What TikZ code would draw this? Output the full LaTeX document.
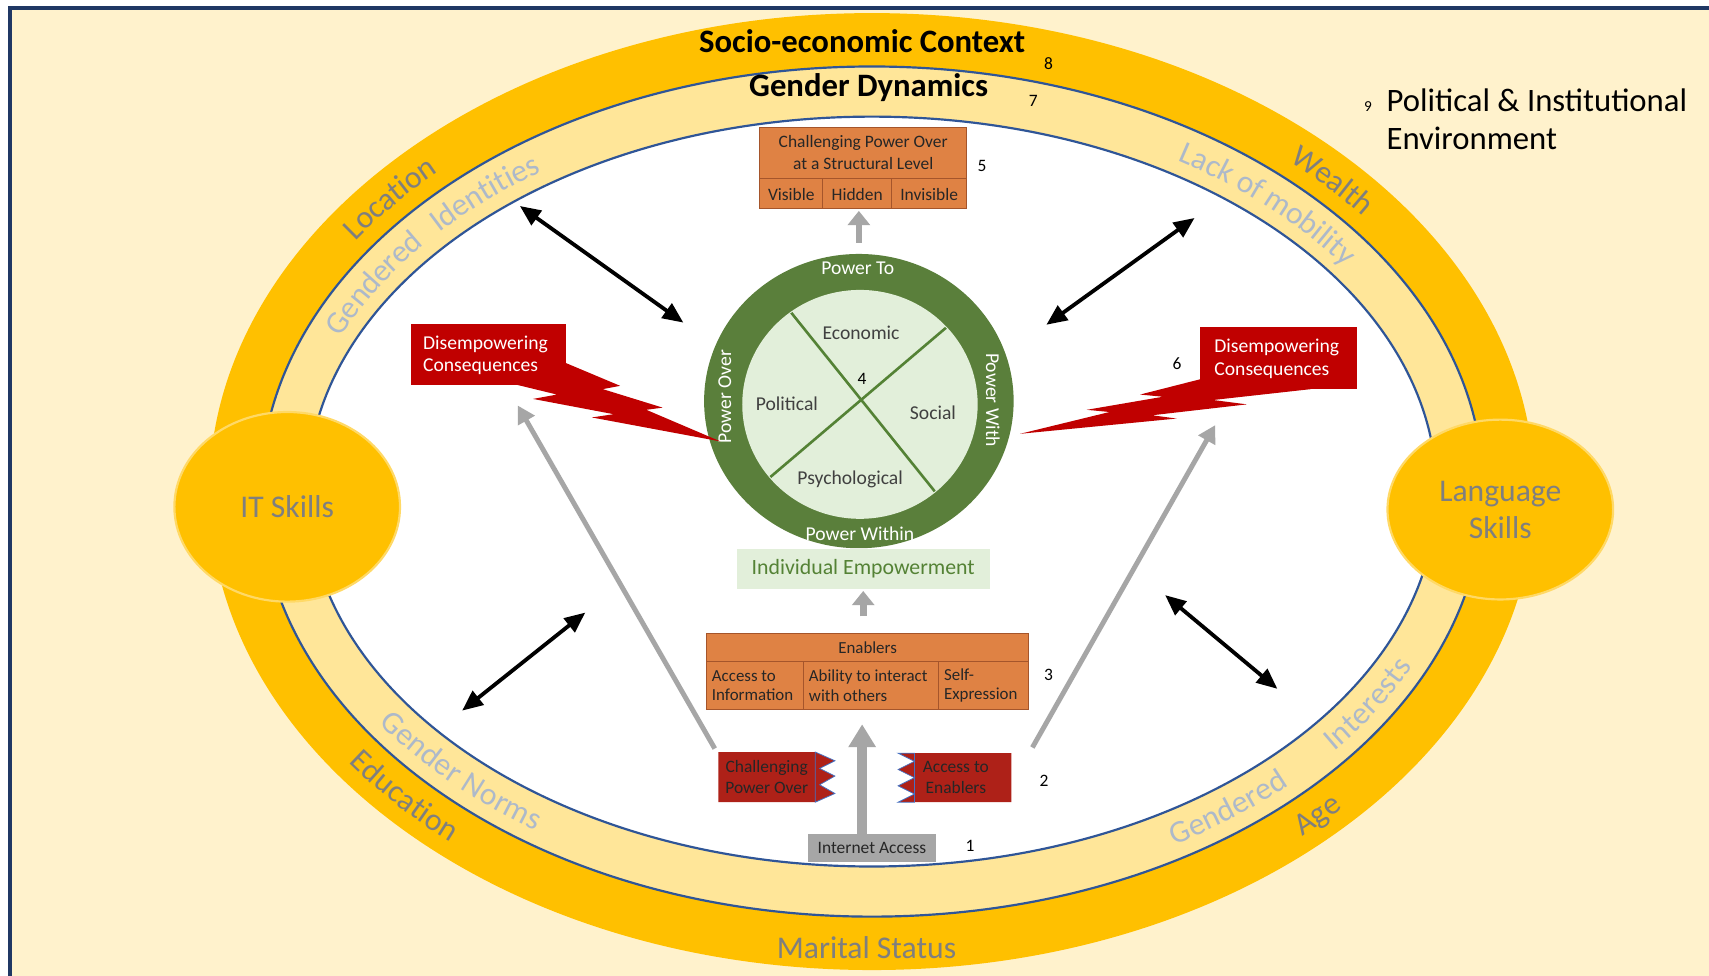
\documentclass[tikz,border=0pt]{standalone}
\usepackage{fontspec}
\setmainfont{Carlito}
\usetikzlibrary{arrows.meta,decorations.text,shapes.geometric}

\definecolor{cream}{HTML}{FFF2CC}
\definecolor{framenavy}{HTML}{203864}
\definecolor{gold}{HTML}{FFC000}
\definecolor{paleband}{HTML}{FFE699}
\definecolor{bandline}{HTML}{2F5597}
\definecolor{outerlabel}{HTML}{7F7F7F}
\definecolor{innerlabel}{HTML}{ADB9CA}
\definecolor{skillrim}{HTML}{FFD966}
\definecolor{boxorange}{HTML}{DF8244}
\definecolor{boxedge}{HTML}{A5552B}
\definecolor{alarm}{HTML}{C00000}
\definecolor{flagred}{HTML}{AE2118}
\definecolor{ringgreen}{HTML}{5A7F3B}
\definecolor{coregreen}{HTML}{E2EFDA}
\definecolor{spokegreen}{HTML}{548235}
\definecolor{arrowgrey}{HTML}{A6A6A6}
\definecolor{textgrey}{HTML}{404040}
\definecolor{toothblue}{HTML}{4472C4}

\newcommand\setfs[2]{\fontsize{#1}{#2}\selectfont}

\tikzset{
  outerlab/.style={decorate, decoration={text along path, text align=center, raise=-9pt,
      text={|\setfs{29}{29}\color{outerlabel}|#1}}},
  innerlab/.style={decorate, decoration={text along path, text align=center, raise=-9pt,
      text={|\setfs{29}{29}\color{innerlabel}|#1}}},
  num/.style={font=\setfs{16}{16}, text=black, inner sep=0pt},
  celltext/.style={font=\setfs{15.5}{18}, text=black!85, inner sep=0pt, align=center},
  coretext/.style={font=\setfs{18}{18}, text=textgrey, inner sep=0pt},
  ringtext/.style={font=\setfs{18}{18}, text=white, inner sep=0pt},
  flagtext/.style={font=\setfs{16}{19}, text=black!85, inner sep=0pt, align=center},
  alarmtext/.style={font=\setfs{18}{21}, text=white, inner sep=0pt, align=left, anchor=west},
  tablebox/.style={draw=boxedge, fill=boxorange, line width=1pt, inner sep=0pt},
  skill/.style={ellipse, fill=gold, draw=skillrim, line width=2pt, inner sep=0pt,
      font=\setfs{29}{34}, text=outerlabel, align=center},
  linkarrow/.style={line width=3.5pt, black,
      {Triangle[length=19pt,width=16pt]}-{Triangle[length=19pt,width=16pt]}},
  greyarrow/.style={line width=4.5pt, arrowgrey, -{Triangle[length=16pt,width=17pt]}},
  blockarrow/.style={arrowgrey, -{Triangle[length=13pt,width=20pt]}},
  bandedge/.style={bandline, line width=2pt},
}

\begin{document}
\begin{tikzpicture}[x=1pt, y=-1pt]
\useasboundingbox (0,0) rectangle (1568,895);

% page and outer frame
\begin{scope}
  \clip (0,0) rectangle (1568,895);
  \fill[white] (0,0) rectangle (1568,895);
  \draw[framenavy, line width=3.5pt, fill=cream] (9,7) rectangle (1650,960);
\end{scope}

% concentric context bands
\fill[gold] (800,451) ellipse [x radius=608, y radius=439];
\fill[paleband] (800,451) ellipse [x radius=561, y radius=390];
\fill[white] (800,451) ellipse [x radius=518, y radius=344];
\draw[bandedge] (800,451) ellipse [x radius=561, y radius=390];
\draw[bandedge] (800,451) ellipse [x radius=518, y radius=344];

% labels in the socio-economic band
\path[outerlab=Location, shift={(800,451)}] (-155:584.5 and 414.5)
  arc[start angle=-155, end angle=-125, x radius=584.5, y radius=414.5];
\path[outerlab=Wealth, shift={(800,451)}] (-58:584.5 and 414.5)
  arc[start angle=-58, end angle=-28, x radius=584.5, y radius=414.5];
\path[outerlab=Education, shift={(800,451)}] (-207:584.5 and 414.5)
  arc[start angle=-207, end angle=-237, x radius=584.5, y radius=414.5];
\path[outerlab=Age, shift={(800,451)}] (60:584.5 and 414.5)
  arc[start angle=60, end angle=30, x radius=584.5, y radius=414.5];
\node[font=\setfs{29}{29}, text=outerlabel] (marital) at (795,869) {Marital Status};

% labels in the gender band
\path[innerlab=Gendered, shift={(800,451)}] (-164:539.5 and 367)
  arc[start angle=-164, end angle=-134, x radius=539.5, y radius=367];
\path[innerlab=Identities, shift={(800,451)}] (-147:539.5 and 367)
  arc[start angle=-147, end angle=-117, x radius=539.5, y radius=367];
\path[innerlab=Lack of mobility, shift={(800,451)}] (-66:539.5 and 367)
  arc[start angle=-66, end angle=-26, x radius=539.5, y radius=367];
\path[innerlab=Gender Norms, shift={(800,451)}] (-204:539.5 and 367)
  arc[start angle=-204, end angle=-244, x radius=539.5, y radius=367];
\path[innerlab=Gendered, shift={(800,451)}] (67:539.5 and 367)
  arc[start angle=67, end angle=37, x radius=539.5, y radius=367];
\path[innerlab=Interests, shift={(800,451)}] (46.5:539.5 and 367)
  arc[start angle=46.5, end angle=16.5, x radius=539.5, y radius=367];

% band titles and numbers
\node[font=\setfs{30}{30}\bfseries] (socio) at (791,38) {Socio-economic Context};
\node[num] at (962,58) {8};
\node[font=\setfs{30}{30}\bfseries] (gdyn) at (797,80) {Gender Dynamics};
\node[num] at (948,93) {7};
\node[anchor=west, align=left, font=\setfs{30}{35}, inner sep=0pt] (env) at (1272,109.5)
  {Political \& Institutional\\Environment};
\node[font=\setfs{14}{14}, inner sep=0pt] at (1255,98) {9};

% skills
\node[skill, minimum width=207pt, minimum height=174pt] (it) at (263.5,465) {IT Skills};
\node[skill, minimum width=207pt, minimum height=165pt] (lang) at (1376.5,467.5) {Language\\Skills};

% empowerment wheel
\node[ellipse, fill=ringgreen, minimum width=284pt, minimum height=270pt, inner sep=0pt] (ring) at (788,368) {};
\node[ellipse, fill=coregreen, minimum width=216pt, minimum height=210pt, inner sep=0pt] (core) at (789,371) {};
\begin{scope}
  \clip (789,371) ellipse [x radius=107, y radius=104];
  \draw[spokegreen, line width=2.4pt] (716,274.5) -- (865,460);
  \draw[spokegreen, line width=2.4pt] (877,293) -- (697,446);
\end{scope}
\node[ringtext] at (787,246) {Power To};
\node[ringtext] at (789,490) {Power Within};
\node[ringtext, rotate=90] at (665,364) {Power Over};
\node[ringtext, rotate=-90] at (911,367) {Power With};
\node[coretext] at (790,305) {Economic};
\node[coretext] at (722,370) {Political};
\node[coretext] at (856,379) {Social};
\node[coretext] at (780,440) {Psychological};
\node[num] at (791,348) {4};

% individual empowerment
\node[fill=coregreen, minimum width=232pt, minimum height=36pt, inner sep=0pt,
  font=\setfs{20}{20}, text=spokegreen] (emp) at (792,522) {Individual Empowerment};

% structural level table
\node[tablebox, minimum width=190pt, minimum height=74pt] (struct) at (792,154) {};
\draw[boxedge, line width=1pt] (697,164) -- (887,164) (755,164) -- (755,191) (818,164) -- (818,191);
\node[celltext, font=\setfs{16}{20}] at (792,140) {Challenging Power Over\\at a Structural Level};
\node[celltext, font=\setfs{16}{16}] at (726,178) {Visible};
\node[celltext, font=\setfs{16}{16}] at (786.5,178) {Hidden};
\node[celltext, font=\setfs{16}{16}] at (852.5,178) {Invisible};
\node[num] at (901,152) {5};

% enablers table
\node[tablebox, minimum width=296pt, minimum height=70pt] (enab) at (796,616) {};
\draw[boxedge, line width=1pt] (648,607) -- (944,607) (737,607) -- (737,651) (861,607) -- (861,651);
\node[celltext] at (796,594) {Enablers};
\node[celltext, anchor=west, align=left] at (653,629) {Access to\\Information};
\node[celltext, anchor=west, align=left] at (742,629) {Ability to interact\\with others};
\node[celltext, anchor=west, align=left] at (866,629) {Self-\\Expression};
\node[num] at (962,619) {3};

% internet access
\node[fill=arrowgrey, minimum width=118pt, minimum height=26pt, inner sep=0pt,
  font=\setfs{16}{16}, text=black!85] (inet) at (800,778) {Internet Access};
\node[num] at (890,776) {1};

% challenging power over / access to enablers flags
\fill[flagred] (659,690) -- (748,690) -- (766,698) -- (752,705) -- (766,712) -- (752,720)
  -- (766,728) -- (748,736) -- (659,736) -- cycle;
\draw[toothblue, line width=0.7pt] (748,690) -- (766,698) -- (752,705) -- (766,712)
  -- (752,720) -- (766,728) -- (748,736) -- cycle;
\node[flagtext, minimum width=89pt, minimum height=46pt] (cpo) at (703.5,713) {Challenging\\Power Over};

\fill[flagred] (824,691) -- (928,691) -- (928,736) -- (824,736) -- (839,728.5) -- (824,721)
  -- (839,713.5) -- (824,706) -- (839,698.5) -- cycle;
\draw[toothblue, line width=0.7pt] (839,691) -- (824,691) -- (839,698.5) -- (824,706)
  -- (839,713.5) -- (824,721) -- (839,728.5) -- (824,736) -- (839,736) -- cycle;
\node[minimum width=89pt, minimum height=45pt, inner sep=0pt] (ate) at (883.5,713.5) {};
\node[flagtext] at (877,713) {Access to\\Enablers};
\node[num] at (958,716) {2};

% flow arrows
\draw[blockarrow, line width=9pt, -{Triangle[length=21pt,width=24pt]}, shorten >=13pt]
  ([xshift=-9pt]inet.north) -- ([xshift=-9pt]inet.north |- enab.south);
\draw[blockarrow, line width=6pt, shorten <=15pt, shorten >=2pt]
  (emp.south |- enab.north) -- (emp.south);
\draw[blockarrow, line width=6pt, shorten <=10pt, shorten >=2pt]
  (ring.north) -- (ring.north |- struct.south);

% disempowering consequences
\node[fill=alarm, minimum width=142pt, minimum height=56pt, inner sep=0pt] (dl) at (448,325) {};
\fill[alarm] (519,333) -- (569,354) -- (553,357) -- (608,374) -- (593,376) -- (661,405)
  -- (543,383) -- (563,380) -- (489,366) -- (511,362) -- (474,353) -- (519,353) -- cycle;
\node[alarmtext] at (388,326) {Disempowering\\Consequences};

\node[fill=alarm, minimum width=144pt, minimum height=57pt, inner sep=0pt] (dr) at (1173,328.5) {};
\fill[alarm] (1101,348) -- (1046,362) -- (1067,364) -- (997,376) -- (1018,378) -- (936,398)
  -- (1079.5,384) -- (1057,381) -- (1144,371) -- (1113,367) -- (1203,357) -- (1101,357) -- cycle;
\node[alarmtext] at (1114,329.5) {Disempowering\\Consequences};
\node[num] at (1080,334) {6};

% grey feedback arrows
\coordinate (gleft) at (475,372);
\coordinate (gright) at (1115,390);
\draw[greyarrow] ([xshift=-3pt, yshift=3pt]cpo.north west) -- (gleft);
\draw[greyarrow] ([xshift=19pt, yshift=5pt]ate.north east) -- (gright);

% two-way links between context and the wheel
\coordinate (ula) at (477,189);  \coordinate (ulb) at (627,296);
\coordinate (ura) at (1096,200); \coordinate (urb) at (960,298);
\coordinate (lla) at (537,562);  \coordinate (llb) at (424,652);
\coordinate (lra) at (1069,546); \coordinate (lrb) at (1172,632);
\draw[linkarrow] (ula) -- (ulb);
\draw[linkarrow] (ura) -- (urb);
\draw[linkarrow] (lla) -- (llb);
\draw[linkarrow] (lra) -- (lrb);

\end{tikzpicture}
\end{document}
